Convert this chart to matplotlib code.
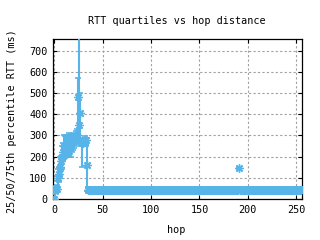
import matplotlib
matplotlib.use("Agg")
import matplotlib.pyplot as plt
import numpy as np

# RTT quartiles per hop, hops 0..255 (16 hops per row)
hops = np.arange(256)

p25 = [
    0, 30, 32, 35, 55, 80, 110, 130, 140, 180, 190, 195, 200, 200, 205, 200,
    210, 200, 220, 230, 240, 250, 260, 270, 300, 290, 270, 250, 250, 150, 250, 250,
    255, 250, 40, 34, 34, 35, 34, 34, 35, 34, 34, 34, 35, 34, 34, 34,
    34, 35, 34, 34, 34, 35, 34, 34, 34, 34, 35, 34, 34, 34, 34, 35,
    34, 34, 34, 35, 34, 34, 34, 34, 35, 34, 34, 34, 35, 34, 34, 34,
    34, 35, 34, 34, 34, 34, 35, 34, 34, 34, 35, 34, 34, 34, 34, 35,
    34, 34, 35, 34, 34, 34, 34, 35, 34, 34, 34, 35, 34, 34, 34, 34,
    35, 34, 34, 34, 34, 35, 34, 34, 34, 35, 34, 34, 34, 34, 35, 34,
    34, 34, 35, 34, 34, 34, 34, 35, 34, 34, 34, 34, 35, 34, 34, 34,
    34, 35, 34, 34, 34, 35, 34, 34, 34, 34, 35, 34, 34, 34, 35, 34,
    34, 34, 34, 35, 34, 34, 34, 35, 34, 34, 34, 34, 35, 34, 34, 34,
    34, 35, 34, 34, 34, 35, 34, 34, 34, 34, 35, 34, 34, 34, 34, 140,
    34, 34, 35, 34, 34, 34, 34, 35, 34, 34, 34, 35, 34, 34, 34, 34,
    35, 34, 34, 34, 34, 35, 34, 34, 34, 35, 34, 34, 34, 34, 35, 34,
    34, 34, 35, 34, 34, 34, 34, 35, 34, 34, 34, 35, 34, 34, 34, 34,
    35, 34, 34, 34, 35, 34, 34, 34, 34, 35, 34, 34, 34, 35, 34, 34,
]

p50 = [
    2, 40, 45, 48, 100, 120, 150, 180, 200, 220, 250, 240, 260, 230, 250, 270,
    240, 260, 280, 270, 285, 290, 295, 300, 480, 350, 405, 270, 265, 270, 265, 275,
    270, 280, 160, 42, 42, 43, 42, 41, 42, 42, 43, 42, 42, 41, 42, 42,
    42, 43, 42, 42, 41, 42, 42, 42, 43, 42, 42, 42, 41, 42, 42, 43,
    42, 42, 41, 42, 42, 43, 42, 42, 42, 41, 42, 42, 43, 42, 42, 42,
    42, 41, 42, 42, 43, 42, 42, 42, 41, 42, 42, 43, 42, 42, 42, 41,
    42, 42, 43, 42, 42, 41, 42, 42, 42, 43, 42, 42, 41, 42, 42, 42,
    43, 42, 42, 41, 42, 42, 42, 43, 42, 42, 42, 41, 42, 42, 43, 42,
    42, 42, 41, 42, 42, 43, 42, 42, 42, 41, 42, 42, 42, 43, 42, 42,
    41, 42, 42, 42, 43, 42, 42, 41, 42, 42, 42, 43, 42, 42, 41, 42,
    42, 43, 42, 42, 42, 41, 42, 42, 43, 42, 42, 42, 41, 42, 42, 43,
    42, 42, 41, 42, 42, 42, 43, 42, 42, 41, 42, 42, 42, 43, 42, 145,
    42, 41, 42, 42, 43, 42, 42, 42, 41, 42, 42, 43, 42, 42, 42, 41,
    42, 42, 43, 42, 42, 41, 42, 42, 42, 43, 42, 42, 41, 42, 42, 42,
    43, 42, 42, 41, 42, 42, 42, 43, 42, 42, 42, 41, 42, 42, 43, 42,
    42, 42, 41, 42, 42, 43, 42, 42, 42, 41, 42, 42, 43, 42, 42, 42,
]

p75 = [
    8, 55, 62, 65, 140, 150, 200, 205, 250, 265, 300, 295, 300, 290, 300, 310,
    300, 295, 300, 305, 310, 305, 320, 330, 570, 900, 500, 290, 285, 290, 285, 290,
    295, 290, 290, 56, 56, 57, 56, 56, 55, 56, 57, 56, 56, 56, 55, 56,
    56, 57, 56, 56, 56, 55, 56, 56, 57, 56, 56, 56, 55, 56, 56, 57,
    56, 56, 55, 56, 56, 57, 56, 56, 56, 55, 56, 56, 57, 56, 56, 56,
    56, 55, 56, 56, 57, 56, 56, 56, 55, 56, 56, 57, 52, 52, 56, 55,
    56, 52, 57, 56, 56, 55, 56, 56, 56, 57, 56, 52, 55, 56, 56, 56,
    57, 56, 56, 55, 56, 56, 56, 57, 56, 56, 56, 55, 56, 56, 57, 56,
    56, 56, 55, 56, 56, 57, 56, 56, 56, 55, 56, 56, 56, 57, 56, 56,
    55, 56, 56, 56, 57, 56, 56, 55, 56, 56, 56, 57, 56, 56, 55, 56,
    56, 57, 56, 56, 56, 55, 56, 56, 57, 56, 56, 56, 55, 56, 56, 57,
    56, 56, 55, 56, 56, 56, 57, 56, 56, 55, 56, 56, 56, 57, 56, 150,
    56, 55, 56, 56, 57, 56, 56, 56, 55, 56, 56, 57, 56, 56, 56, 55,
    56, 56, 57, 56, 56, 55, 56, 56, 56, 57, 56, 56, 55, 56, 56, 56,
    57, 56, 56, 55, 56, 56, 56, 57, 56, 56, 56, 55, 56, 56, 57, 56,
    56, 56, 55, 56, 56, 57, 56, 56, 56, 55, 56, 56, 57, 56, 56, 56,
]

xticks = [0, 50, 100, 150, 200, 250]
yticks = [0, 100, 200, 300, 400, 500, 600, 700]

color = "#56b4e9"
plt.rcParams['font.family'] = ['DejaVu Sans Mono', 'DejaVu Sans']
fs = 7.3

fig = plt.figure(figsize=(3.2, 2.4), dpi=100)
ax = fig.add_axes([53 / 320, 1 - 199 / 240, 249 / 320, 160 / 240])

p25 = np.array(p25)
p50 = np.array(p50)
p75 = np.array(p75)
ax.errorbar(hops, p50, yerr=[p50 - p25, p75 - p50], fmt='none',
            ecolor=color, elinewidth=1.5, capsize=2.5, capthick=1.2, zorder=3)
ax.plot(hops, p50, linestyle='none', marker=(8, 2, 0), markersize=6,
        markeredgewidth=1.0, color=color, zorder=4)

ax.set_xlim(-1.5, 256)
ax.set_ylim(0, 755)
ax.set_xticks(xticks)
ax.set_yticks(yticks)
ax.tick_params(direction='in', top=True, right=True, length=3, width=0.8,
               labelsize=fs, pad=4, colors='black')
ax.grid(True, color='#a0a0a0', linestyle=(0, (2, 2)), linewidth=0.8)
ax.set_axisbelow(True)
for s in ax.spines.values():
    s.set_linewidth(0.9)

fig.text(177 / 320, 1 - 21 / 240, "RTT quartiles vs hop distance",
         ha='center', va='center', fontsize=fs)
fig.text(176 / 320, 1 - 230 / 240, "hop", ha='center', va='center', fontsize=fs)
fig.text(12 / 320, 1 - 121 / 240, "25/50/75th percentile RTT (ms)",
         ha='center', va='center', rotation=90, fontsize=fs)

fig.savefig("out.png", dpi=100)
